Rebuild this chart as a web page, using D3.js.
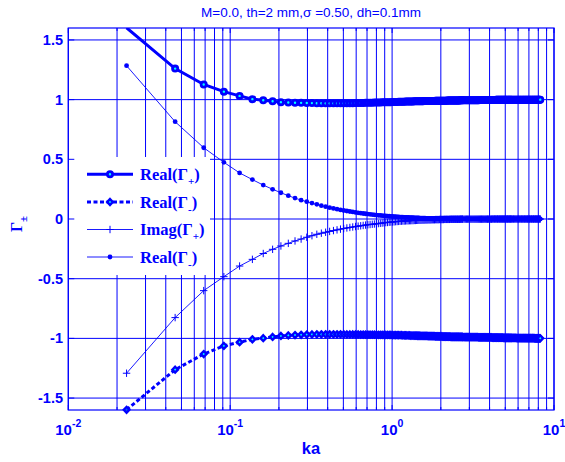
<!DOCTYPE html>
<html><head><meta charset="utf-8">
<script src="https://cdn.jsdelivr.net/npm/d3@7"></script>
<style>body{margin:0;background:#fff}svg{display:block}</style>
</head><body>
<svg id="chart" width="565" height="462"></svg>
<script>
// ---------- data ----------
const ka = [
0.0229,0.0457,0.0686,0.0914,0.1143,0.1371,0.1600,0.1828,0.2057,0.2285,
0.2514,0.2742,0.2971,0.3199,0.3428,0.3656,0.3885,0.4113,0.4342,0.4570,
0.4799,0.5027,0.5256,0.5484,0.5713,0.5941,0.6170,0.6398,0.6627,0.6855,
0.7084,0.7312,0.7541,0.7769,0.7998,0.8226,0.8455,0.8683,0.8912,0.9140,
0.9369,0.9597,0.9826,1.0054,1.0283,1.0511,1.0740,1.0968,1.1197,1.1425,
1.1654,1.1882,1.2111,1.2339,1.2568,1.2796,1.3025,1.3253,1.3482,1.3710,
1.3939,1.4167,1.4396,1.4624,1.4853,1.5081,1.5310,1.5538,1.5767,1.5995,
1.6224,1.6452,1.6681,1.6909,1.7138,1.7366,1.7595,1.7823,1.8052,1.8280,
1.8509,1.8737,1.8966,1.9194,1.9423,1.9651,1.9880,2.0108,2.0337,2.0565,
2.0794,2.1022,2.1251,2.1479,2.1708,2.1936,2.2165,2.2393,2.2622,2.2850,
2.3079,2.3307,2.3536,2.3764,2.3993,2.4221,2.4450,2.4678,2.4907,2.5135,
2.5364,2.5592,2.5821,2.6049,2.6278,2.6506,2.6735,2.6963,2.7192,2.7420,
2.7877,2.8334,2.8791,2.9248,2.9705,3.0162,3.0619,3.1076,3.1533,3.1990,
3.2447,3.2904,3.3361,3.3818,3.4275,3.4732,3.5189,3.5646,3.6103,3.6560,
3.7017,3.7474,3.7931,3.8388,3.8845,3.9302,3.9759,4.0216,4.0673,4.1130,
4.1587,4.2044,4.2501,4.2958,4.3415,4.3872,4.4329,4.4786,4.5243,4.5700,
4.6157,4.6614,4.7071,4.7528,4.7985,4.8442,4.8899,4.9356,4.9813,5.0270,
5.0727,5.1184,5.1641,5.2098,5.2555,5.3012,5.3469,5.3926,5.4383,5.4840,
5.5526,5.6211,5.6897,5.7582,5.8268,5.8953,5.9639,6.0324,6.1010,6.1695,
6.2381,6.3066,6.3752,6.4437,6.5123,6.5808,6.6494,6.7179,6.7865,6.8550,
6.9236,6.9921,7.0607,7.1292,7.1978,7.2663,7.3349,7.4034,7.4720,7.5405,
7.6091,7.6776,7.7462,7.8147,7.8833,7.9518,8.0204,8.0889,8.1575,8.2260];

const realPlus = [
1.602,1.260,1.127,1.067,1.031,1.004,0.995,0.987,0.979,0.976,
0.974,0.973,0.972,0.971,0.970,0.970,0.969,0.969,0.969,0.969,
0.969,0.969,0.970,0.970,0.970,0.971,0.971,0.972,0.972,0.973,
0.973,0.974,0.974,0.975,0.975,0.976,0.976,0.977,0.977,0.978,
0.978,0.979,0.979,0.980,0.980,0.981,0.981,0.982,0.982,0.983,
0.983,0.983,0.984,0.984,0.984,0.985,0.985,0.985,0.985,0.986,
0.986,0.986,0.986,0.987,0.987,0.987,0.987,0.987,0.988,0.988,
0.988,0.988,0.988,0.988,0.989,0.989,0.989,0.989,0.989,0.989,
0.990,0.990,0.990,0.990,0.990,0.990,0.990,0.991,0.991,0.991,
0.991,0.991,0.991,0.991,0.991,0.992,0.992,0.992,0.992,0.992,
0.992,0.992,0.992,0.992,0.993,0.993,0.993,0.993,0.993,0.993,
0.993,0.993,0.993,0.993,0.994,0.994,0.994,0.994,0.994,0.994,
0.994,0.994,0.994,0.994,0.994,0.995,0.995,0.995,0.995,0.995,
0.995,0.995,0.995,0.995,0.995,0.996,0.996,0.996,0.996,0.996,
0.996,0.996,0.996,0.996,0.996,0.997,0.997,0.997,0.997,0.997,
0.997,0.997,0.997,0.997,0.997,0.998,0.998,0.998,0.998,0.998,
0.998,0.998,0.998,0.998,0.998,0.998,0.998,0.998,0.998,0.998,
0.999,0.999,0.999,0.999,0.999,0.999,0.999,0.999,0.999,0.999,
0.999,0.999,0.999,0.999,0.999,0.999,0.999,0.999,0.999,0.999,
0.999,0.999,0.999,0.999,0.999,1.000,1.000,1.000,1.000,1.000,
1.000,1.000,1.000,1.000,1.000,1.000,1.000,1.000,1.000,1.000,
1.000,1.000,1.000,1.000,1.000,1.000,1.000,1.000,1.000,1.000];

const realMinus = [
-1.598,-1.262,-1.131,-1.063,-1.032,-1.008,-0.998,-0.988,-0.980,-0.975,
-0.972,-0.970,-0.968,-0.967,-0.966,-0.966,-0.966,-0.966,-0.966,-0.966,
-0.966,-0.966,-0.967,-0.967,-0.967,-0.967,-0.967,-0.968,-0.968,-0.968,
-0.968,-0.969,-0.969,-0.969,-0.969,-0.970,-0.970,-0.970,-0.970,-0.971,
-0.971,-0.971,-0.971,-0.972,-0.972,-0.972,-0.972,-0.973,-0.973,-0.973,
-0.974,-0.974,-0.974,-0.975,-0.975,-0.975,-0.976,-0.976,-0.976,-0.977,
-0.977,-0.977,-0.978,-0.978,-0.978,-0.979,-0.979,-0.979,-0.980,-0.980,
-0.980,-0.980,-0.981,-0.981,-0.981,-0.981,-0.982,-0.982,-0.982,-0.982,
-0.983,-0.983,-0.983,-0.983,-0.984,-0.984,-0.984,-0.984,-0.984,-0.985,
-0.985,-0.985,-0.985,-0.985,-0.986,-0.986,-0.986,-0.986,-0.986,-0.986,
-0.987,-0.987,-0.987,-0.987,-0.987,-0.987,-0.987,-0.987,-0.987,-0.987,
-0.987,-0.987,-0.988,-0.988,-0.988,-0.988,-0.988,-0.988,-0.988,-0.989,
-0.989,-0.989,-0.989,-0.989,-0.989,-0.989,-0.990,-0.990,-0.990,-0.990,
-0.990,-0.990,-0.990,-0.990,-0.991,-0.991,-0.991,-0.991,-0.991,-0.991,
-0.991,-0.991,-0.992,-0.992,-0.992,-0.992,-0.992,-0.992,-0.992,-0.992,
-0.993,-0.993,-0.993,-0.993,-0.993,-0.993,-0.993,-0.993,-0.994,-0.994,
-0.994,-0.994,-0.994,-0.994,-0.994,-0.994,-0.995,-0.995,-0.995,-0.995,
-0.995,-0.995,-0.995,-0.995,-0.996,-0.996,-0.996,-0.996,-0.996,-0.996,
-0.996,-0.996,-0.996,-0.996,-0.996,-0.997,-0.997,-0.997,-0.997,-0.997,
-0.997,-0.997,-0.997,-0.997,-0.997,-0.997,-0.997,-0.998,-0.998,-0.998,
-0.998,-0.998,-0.998,-0.998,-0.998,-0.998,-0.998,-0.998,-0.998,-0.998,
-0.999,-0.999,-0.999,-0.999,-0.999,-0.999,-0.999,-0.999,-0.999,-0.999];

const imagPlus = [
-1.292,-0.826,-0.600,-0.483,-0.394,-0.338,-0.289,-0.254,-0.226,-0.204,
-0.184,-0.168,-0.153,-0.140,-0.128,-0.119,-0.111,-0.104,-0.097,-0.091,
-0.085,-0.080,-0.075,-0.071,-0.067,-0.063,-0.060,-0.057,-0.054,-0.051,
-0.048,-0.046,-0.044,-0.042,-0.040,-0.038,-0.036,-0.034,-0.032,-0.030,
-0.029,-0.027,-0.026,-0.025,-0.024,-0.022,-0.021,-0.020,-0.019,-0.018,
-0.017,-0.017,-0.016,-0.015,-0.015,-0.014,-0.014,-0.013,-0.013,-0.012,
-0.012,-0.011,-0.011,-0.010,-0.010,-0.010,-0.009,-0.009,-0.009,-0.008,
-0.008,-0.008,-0.007,-0.007,-0.007,-0.007,-0.006,-0.006,-0.006,-0.006,
-0.005,-0.005,-0.005,-0.005,-0.005,-0.004,-0.004,-0.004,-0.004,-0.004,
-0.004,-0.003,-0.003,-0.003,-0.003,-0.003,-0.003,-0.003,-0.003,-0.002,
-0.002,-0.002,-0.002,-0.002,-0.002,-0.002,-0.002,-0.002,-0.002,-0.002,
-0.002,-0.002,-0.002,-0.002,-0.002,-0.001,-0.001,-0.001,-0.001,-0.001,
-0.001,-0.001,-0.001,-0.001,-0.001,-0.001,-0.001,-0.001,-0.001,-0.001,
-0.001,-0.001,-0.001,-0.001,-0.001,-0.001,-0.001,-0.001,-0.001,-0.001,
-0.001,-0.001,-0.001,-0.001,-0.001,-0.001,-0.001,-0.001,-0.001,-0.001,
0,0,0,0,0,0,0,0,0,0,
0,0,0,0,0,0,0,0,0,0,
0,0,0,0,0,0,0,0,0,0,
0,0,0,0,0,0,0,0,0,0,
0,0,0,0,0,0,0,0,0,0,
0,0,0,0,0,0,0,0,0,0,
0,0,0,0,0,0,0,0,0,0];

const realMinus2 = [
1.284,0.815,0.597,0.475,0.386,0.330,0.284,0.249,0.220,0.195,
0.175,0.158,0.145,0.133,0.123,0.112,0.103,0.095,0.089,0.082,
0.076,0.071,0.067,0.063,0.059,0.055,0.052,0.049,0.046,0.044,
0.041,0.039,0.037,0.035,0.033,0.031,0.030,0.028,0.027,0.025,
0.024,0.023,0.022,0.021,0.020,0.019,0.018,0.017,0.016,0.016,
0.015,0.014,0.014,0.013,0.013,0.012,0.012,0.011,0.011,0.010,
0.010,0.009,0.009,0.009,0.008,0.008,0.008,0.007,0.007,0.007,
0.006,0.006,0.006,0.006,0.005,0.005,0.005,0.005,0.005,0.004,
0.004,0.004,0.004,0.004,0.004,0.003,0.003,0.003,0.003,0.003,
0.003,0.003,0.003,0.002,0.002,0.002,0.002,0.002,0.002,0.002,
0.002,0.002,0.002,0.002,0.002,0.001,0.001,0.001,0.001,0.001,
0.001,0.001,0.001,0.001,0.001,0.001,0.001,0.001,0.001,0.001,
0.001,0.001,0.001,0.001,0.001,0.001,0.001,0.001,0.001,0.001,
0.001,0.001,0.001,0.001,0.001,0.001,0.001,0.001,0.001,0.001,
0,0,0,0,0,0,0,0,0,0,
0,0,0,0,0,0,0,0,0,0,
0,0,0,0,0,0,0,0,0,0,
0,0,0,0,0,0,0,0,0,0,
0,0,0,0,0,0,0,0,0,0,
0,0,0,0,0,0,0,0,0,0,
0,0,0,0,0,0,0,0,0,0,
0,0,0,0,0,0,0,0,0,0];

const yTicks = [-1.5,-1,-0.5,0,0.5,1,1.5];
const yTickLabels = ["-1.5","-1","-0.5","0","0.5","1","1.5"];
const xTicks = [0.01,0.1,1,10];
const xTickExps = ["-2","-1","0","1"];
const legendMain = ["Real(\u0393","Real(\u0393","Imag(\u0393","Real(\u0393"];
const legendSub = ["+","-","+","-"];
const titleText = "M=0.0, th=2 mm,\u03c3 =0.50, dh=0.1mm";
const xLabelText = "ka";

// ---------- drawing ----------
const BLUE = "#0000ff", CYAN = "#00ffff";
const L = 68.3, R = 554, T = 28, B = 410;
const svg = d3.select("#chart");
const x = d3.scaleLog().domain([0.01, 10]).range([L, R]);
const y = d3.scaleLinear().domain([-1.6, 1.6]).range([B, T]);

svg.append("defs").append("clipPath").attr("id","clip")
  .append("rect").attr("x",L).attr("y",T).attr("width",R-L).attr("height",B-T);

// grid
const grid = svg.append("g").attr("stroke",BLUE).attr("stroke-width",1).attr("fill","none");
grid.selectAll("line.v").data(x.ticks()).join("line")
  .attr("x1",d=>x(d)).attr("x2",d=>x(d)).attr("y1",T).attr("y2",B);
grid.selectAll("line.h").data(yTicks).join("line")
  .attr("y1",d=>y(d)).attr("y2",d=>y(d)).attr("x1",L).attr("x2",R);

const data = ka.map((k,i)=>({k, rp:realPlus[i], rm:realMinus[i], ip:imagPlus[i], rm2:realMinus2[i]}));
const plot = svg.append("g");
const lineGen = key => d3.line().x(d=>x(d.k)).y(d=>y(d[key]));
const clipG = plot.append("g").attr("clip-path","url(#clip)");

clipG.append("path").datum(data).attr("d",lineGen("rm2")).attr("fill","none").attr("stroke",BLUE).attr("stroke-width",0.9);
clipG.append("path").datum(data).attr("d",lineGen("ip")).attr("fill","none").attr("stroke",BLUE).attr("stroke-width",0.9);
clipG.append("path").datum(data).attr("d",lineGen("rp")).attr("fill","none").attr("stroke",BLUE).attr("stroke-width",3);
clipG.append("path").datum(data).attr("d",lineGen("rm")).attr("fill","none").attr("stroke",BLUE).attr("stroke-width",3).attr("stroke-dasharray","4,2.5");

const inY = v => v >= -1.6 && v <= 1.6;
const diamond = "M0,-2.9L2.8,0L0,2.9L-2.8,0Z";
const plus = "M-3.7,0H3.7M0,-3.7V3.7";

plot.append("g").selectAll("circle").data(data.filter(d=>inY(d.rm2))).join("circle")
  .attr("cx",d=>x(d.k)).attr("cy",d=>y(d.rm2)).attr("r",2.4).attr("fill",BLUE);
plot.append("g").selectAll("path").data(data.filter(d=>inY(d.ip))).join("path")
  .attr("transform",d=>`translate(${x(d.k)},${y(d.ip)})`).attr("d",plus).attr("stroke",BLUE).attr("stroke-width",1).attr("fill","none");
plot.append("g").selectAll("circle").data(data.filter(d=>inY(d.rp))).join("circle")
  .attr("cx",d=>x(d.k)).attr("cy",d=>y(d.rp)).attr("r",2.6).attr("fill",CYAN).attr("stroke",BLUE).attr("stroke-width",2.8);
plot.append("g").selectAll("path").data(data.filter(d=>inY(d.rm))).join("path")
  .attr("transform",d=>`translate(${x(d.k)},${y(d.rm)})`).attr("d",diamond).attr("fill",CYAN).attr("stroke",BLUE).attr("stroke-width",2.4);

// legend
const lg = svg.append("g");
lg.append("rect").attr("x",69).attr("y",157).attr("width",141).attr("height",118).attr("fill","#fff");
const ly = [174.3,202,229.5,257];
legendMain.forEach((m,i)=>{
  const yy = ly[i];
  const ln = lg.append("line").attr("x1",87).attr("x2",133).attr("y1",yy).attr("y2",yy).attr("stroke",BLUE);
  if(i<2){ ln.attr("stroke-width",3); if(i===1) ln.attr("stroke-dasharray","4,2.5"); } else ln.attr("stroke-width",0.9);
  if(i===0) lg.append("circle").attr("cx",110).attr("cy",yy).attr("r",2.6).attr("fill",CYAN).attr("stroke",BLUE).attr("stroke-width",2.8);
  if(i===1) lg.append("path").attr("transform",`translate(110,${yy})`).attr("d",diamond).attr("fill",CYAN).attr("stroke",BLUE).attr("stroke-width",2.4);
  if(i===2) lg.append("path").attr("transform",`translate(110,${yy})`).attr("d",plus).attr("stroke",BLUE).attr("fill","none");
  if(i===3) lg.append("circle").attr("cx",110).attr("cy",yy).attr("r",2.4).attr("fill",BLUE);
  const t = lg.append("text").attr("x",140).attr("y",yy+5.5).attr("fill",BLUE)
    .attr("font-family","'Liberation Serif','Times New Roman',serif").attr("font-weight","bold").attr("font-size",16.5);
  t.append("tspan").text(m);
  t.append("tspan").attr("dy",5).attr("font-size",11).text(legendSub[i]);
  t.append("tspan").attr("dy",-5).text(")");
});

// axes (box + inward ticks)
const ax = svg.append("g").attr("stroke",BLUE).attr("fill","none");
ax.append("rect").attr("x",L).attr("y",T).attr("width",R-L).attr("height",B-T).attr("stroke-width",1.2);
const minor = x.ticks();
ax.selectAll("line.bt").data(minor).join("line").attr("x1",d=>x(d)).attr("x2",d=>x(d))
  .attr("y1",B).attr("y2",d=>B-(xTicks.includes(d)?5:3));
ax.selectAll("line.tt").data(minor).join("line").attr("x1",d=>x(d)).attr("x2",d=>x(d))
  .attr("y1",T).attr("y2",d=>T+(xTicks.includes(d)?5:3));
ax.selectAll("line.lt").data(yTicks).join("line").attr("x1",L).attr("x2",L+6).attr("y1",d=>y(d)).attr("y2",d=>y(d));
ax.selectAll("line.rt").data(yTicks).join("line").attr("x1",R).attr("x2",R-6).attr("y1",d=>y(d)).attr("y2",d=>y(d));

// tick labels
const sans = "'Liberation Sans',Arial,Helvetica,sans-serif";
svg.append("g").selectAll("text").data(yTicks).join("text")
  .attr("x",63).attr("y",d=>y(d)+5).attr("text-anchor","end").attr("fill",BLUE)
  .attr("font-family",sans).attr("font-weight","bold").attr("font-size",14.5)
  .text((d,i)=>yTickLabels[i]);

const xl = svg.append("g").selectAll("text").data(xTicks).join("text")
  .attr("x",d=>x(d)).attr("y",435).attr("text-anchor","middle").attr("fill",BLUE)
  .attr("font-family",sans).attr("font-weight","bold").attr("font-size",15);
xl.append("tspan").text("10");
xl.append("tspan").attr("dy",-8).attr("font-size",10.5).text((d,i)=>xTickExps[i]);

// title & axis labels
svg.append("text").attr("x",311).attr("y",17).attr("text-anchor","middle").attr("fill",BLUE)
  .attr("font-family",sans).attr("font-size",13.5).text(titleText);
svg.append("text").attr("x",311).attr("y",454).attr("text-anchor","middle").attr("fill",BLUE)
  .attr("font-family",sans).attr("font-weight","bold").attr("font-size",16.5).text(xLabelText);
const yl = svg.append("text").attr("transform","translate(21.5,224) rotate(-90)").attr("text-anchor","middle").attr("fill",BLUE)
  .attr("font-family","'Liberation Serif',serif").attr("font-weight","bold").attr("font-size",16);
yl.append("tspan").text("\u0393");
yl.append("tspan").attr("dy",5).attr("font-size",11).text("\u00b1");
</script>
</body></html>
